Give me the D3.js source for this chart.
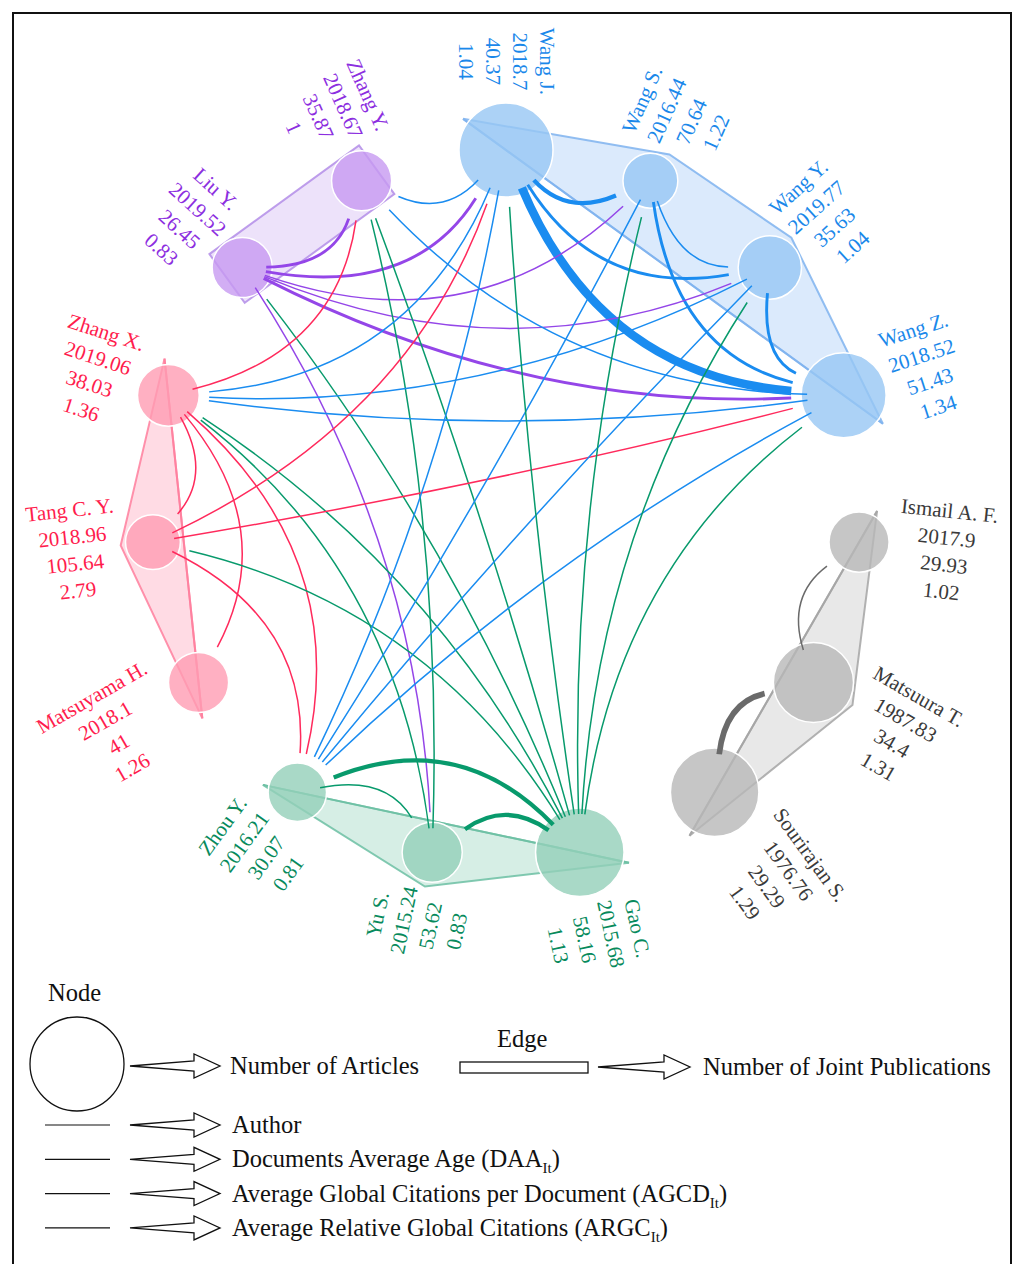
<!DOCTYPE html>
<html>
<head>
<meta charset="utf-8">
<script src="https://cdn.jsdelivr.net/npm/d3@7"></script>
<style>
  body { margin: 0; background: #fff; }
  svg { display: block; }
  text { font-family: "Liberation Serif", "Times New Roman", serif; }
</style>
</head>
<body>
<svg id="chart" width="1013" height="1264"></svg>
<script>
// ---- Authors, clockwise from the top of the ring ----
const authors  = ["Wang J.", "Wang S.", "Wang Y.", "Wang Z.", "Ismail A. F.", "Matsuura T.",
                  "Sourirajan S.", "Gao C.", "Yu S.", "Zhou Y.", "Matsuyama H.", "Tang C. Y.",
                  "Zhang X.", "Liu Y.", "Zhang Y."];
const clusters = ["wang", "wang", "wang", "wang", "gray", "gray",
                  "gray", "gao", "gao", "gao", "red", "red",
                  "red", "purple", "purple"];
const articles = [22, 7.5, 10, 18, 9, 16, 19.5, 19.5, 9, 8.5, 9, 7.5, 9.5, 9, 9];
const daa  = [2018.7, 2016.44, 2019.77, 2018.52, 2017.9, 1987.83, 1976.76, 2015.68, 2015.24, 2016.21, 2018.1, 2018.96, 2019.06, 2019.52, 2018.67];
const agcd = [40.37, 70.64, 35.63, 51.43, 29.93, 34.4, 29.29, 58.16, 53.62, 30.07, 41, 105.64, 38.03, 26.45, 35.87];
const argc = [1.04, 1.22, 1.04, 1.34, 1.02, 1.31, 1.29, 1.13, 0.83, 0.81, 1.26, 2.79, 1.36, 0.83, 1];

// ---- Co-authorship links (colour follows the first author of the pair) ----
const edgeFrom = ["Wang J.", "Wang J.", "Wang J.", "Wang S.", "Wang S.", "Wang Y.",
                  "Liu Y.", "Liu Y.", "Liu Y.", "Liu Y.", "Liu Y.", "Liu Y.",
                  "Gao C.", "Wang J.", "Wang Z.", "Zhang X.", "Yu S.", "Gao C.",
                  "Wang J.", "Wang Y.", "Wang Z.", "Zhang X.", "Zhang X.", "Zhang X.",
                  "Gao C.", "Yu S.", "Tang C. Y.", "Tang C. Y.", "Tang C. Y.", "Gao C.",
                  "Wang J.", "Wang S.", "Wang Y.", "Wang Z.", "Zhou Y.", "Gao C.",
                  "Gao C.", "Gao C.", "Gao C.", "Gao C.", "Gao C.", "Matsuura T.", "Sourirajan S."];
const edgeTo   = ["Wang Z.", "Wang S.", "Wang Y.", "Wang Z.", "Wang Y.", "Wang Z.",
                  "Zhang Y.", "Wang J.", "Wang S.", "Wang Y.", "Wang Z.", "Yu S.",
                  "Liu Y.", "Zhang Y.", "Zhang Y.", "Zhang Y.", "Zhang Y.", "Zhang Y.",
                  "Zhang X.", "Zhang X.", "Zhang X.", "Tang C. Y.", "Matsuyama H.", "Zhou Y.",
                  "Zhang X.", "Zhang X.", "Wang J.", "Wang Z.", "Zhou Y.", "Tang C. Y.",
                  "Zhou Y.", "Zhou Y.", "Zhou Y.", "Zhou Y.", "Yu S.", "Zhou Y.",
                  "Yu S.", "Wang J.", "Wang S.", "Wang Y.", "Wang Z.", "Ismail A. F.", "Matsuura T."];
const jointPubs = [6, 3, 2, 2, 1, 2,
                   2, 2, 1, 1, 2, 1,
                   1, 1, 1, 1, 1, 1,
                   1, 1, 1, 1, 1, 1,
                   1, 1, 1, 1, 1, 1,
                   1, 1, 1, 1, 1, 3,
                   3, 1, 1, 1, 1, 1, 4];

// ---- Legend entries ----
const legendRows = [
  { text: "Author" },
  { text: "Documents Average Age (DAA", sub: "It", tail: ")" },
  { text: "Average Global Citations per Document (AGCD", sub: "It", tail: ")" },
  { text: "Average Relative Global Citations (ARGC", sub: "It", tail: ")" }
];

// ---- Styling ----
const palette = {
  wang:   { node: "#97c7f4", hull: "#a5caf7", hullStroke: "#7fb3ee", edge: "#1a8cf0", text: "#1a88ea" },
  purple: { node: "#c79af1", hull: "#d2b6f2", hullStroke: "#b38de8", edge: "#9446e8", text: "#8c2ee0" },
  red:    { node: "#ff9cb3", hull: "#ffa5bb", hullStroke: "#ff7f9d", edge: "#ff2a5c", text: "#ff1c4d" },
  gao:    { node: "#93cfb9", hull: "#98d4be", hullStroke: "#6cbfa3", edge: "#089a6c", text: "#078a5c" },
  gray:   { node: "#b8b8b8", hull: "#c5c5c5", hullStroke: "#a5a5a5", edge: "#6a6a6a", text: "#3a3a3a" }
};

const svg = d3.select("#chart");
const cx = 506, cy = 505, ringR = 355;

// frame
svg.append("rect").attr("x", 13).attr("y", 13).attr("width", 998).attr("height", 1270)
  .attr("fill", "none").attr("stroke", "#111").attr("stroke-width", 2);

const angleScale = d3.scaleLinear().domain([0, authors.length]).range([-90, 270]);
const rScale = d3.scaleSqrt().domain([0, 22]).range([0, 47]);
const widthScale = d3.scaleLinear().domain([1, 6]).range([1.5, 8.5]);

const nodes = authors.map((name, i) => {
  const a = angleScale(i), t = a * Math.PI / 180;
  return { name, i, cluster: clusters[i], a,
           x: cx + ringR * Math.cos(t), y: cy + ringR * Math.sin(t),
           r: rScale(articles[i]) };
});
const byName = new Map(nodes.map(n => [n.name, n]));

// ---- Cluster hulls ----
function hullShape(members) {
  const a = members[0], b = members[members.length - 1];
  const dx = b.x - a.x, dy = b.y - a.y, L = Math.hypot(dx, dy);
  const ux = dx / L, uy = dy / L, vx = -uy, vy = ux;
  if (members.length === 2) {
    const w = Math.max(a.r, b.r);
    const s = [a.x - ux * a.r * 0.62, a.y - uy * a.r * 0.62];
    const e = [b.x + ux * b.r * 0.62, b.y + uy * b.r * 0.62];
    return { poly: [[s[0] + vx * w, s[1] + vy * w], [e[0] + vx * w, e[1] + vy * w],
                    [e[0] - vx * w, e[1] - vy * w], [s[0] - vx * w, s[1] - vy * w]],
             spine: null };
  }
  const start = [a.x - ux * (a.r + 6), a.y - uy * (a.r + 6)];
  const end = [b.x + ux * (b.r + 6), b.y + uy * (b.r + 6)];
  const mids = members.slice(1, -1).map(m => {
    const side = Math.sign((m.x - a.x) * vx + (m.y - a.y) * vy) || 1;
    return [m.x + side * vx * (m.r + 5), m.y + side * vy * (m.r + 5)];
  });
  return { poly: [start, ...mids, end], spine: [start, end] };
}

const clusterKeys = Array.from(new Set(clusters));
const hullLayer = svg.append("g");
clusterKeys.forEach(k => {
  const members = nodes.filter(n => n.cluster === k);
  const h = hullShape(members);
  hullLayer.append("path")
    .attr("d", "M" + h.poly.map(p => p.join(",")).join("L") + "Z")
    .attr("fill", palette[k].hull).attr("fill-opacity", 0.4)
    .attr("stroke", palette[k].hullStroke).attr("stroke-opacity", 0.85).attr("stroke-width", 2);
  if (h.spine) {
    hullLayer.append("line")
      .attr("x1", h.spine[0][0]).attr("y1", h.spine[0][1])
      .attr("x2", h.spine[1][0]).attr("y2", h.spine[1][1])
      .attr("stroke", palette[k].hullStroke).attr("stroke-opacity", 0.85).attr("stroke-width", 2);
  }
});

// ---- Nodes ----
svg.append("g").selectAll("circle").data(nodes).join("circle")
  .attr("cx", d => d.x).attr("cy", d => d.y).attr("r", d => d.r)
  .attr("fill", d => palette[d.cluster].node).attr("fill-opacity", 0.8)
  .attr("stroke", "#fff").attr("stroke-width", 1.5);

// ---- Links: quadratic curves pulled toward the ring centre ----
const pull = [0, 0.15, 0.3, 0.44, 0.46, 0.46, 0.42, 0.4, 0.4];
const links = edgeFrom.map((f, k) => ({ s: byName.get(f), t: byName.get(edgeTo[k]), w: jointPubs[k] }));
function linkPath(l) {
  const s = l.s, t = l.t;
  const diff = Math.abs(s.i - t.i), steps = Math.min(diff, authors.length - diff);
  const mx = (s.x + t.x) / 2, my = (s.y + t.y) / 2, k = pull[steps];
  const c = [mx + k * (cx - mx), my + k * (cy - my)];
  const d0 = Math.hypot(c[0] - s.x, c[1] - s.y), d1 = Math.hypot(c[0] - t.x, c[1] - t.y);
  const rs = s.r - 6, rt = t.r + 10;
  const p0 = [s.x + (c[0] - s.x) / d0 * rs, s.y + (c[1] - s.y) / d0 * rs];
  const p1 = [t.x + (c[0] - t.x) / d1 * rt, t.y + (c[1] - t.y) / d1 * rt];
  const p = d3.path();
  p.moveTo(p0[0], p0[1]);
  p.quadraticCurveTo(c[0], c[1], p1[0], p1[1]);
  return p.toString();
}
svg.append("g").attr("fill", "none").selectAll("path").data(links).join("path")
  .attr("d", linkPath)
  .attr("stroke", d => palette[d.s.cluster].edge)
  .attr("stroke-width", d => widthScale(d.w));

// ---- Radial labels: name, DAA, AGCD, ARGC ----
const lineH = 27;
const labelLayer = svg.append("g");
nodes.forEach(n => {
  const lines = [n.name, String(daa[n.i]), String(agcd[n.i]), String(argc[n.i])];
  const rot = (n.a > -90 && n.a < 90) ? n.a : n.a - 180;
  const g = labelLayer.append("g");
  const txt = g.selectAll("text").data(lines).join("text")
    .attr("text-anchor", "middle")
    .attr("y", (d, j) => (j - 1.5) * lineH + 7)
    .attr("font-size", 21)
    .attr("fill", palette[n.cluster].text)
    .text(d => d);
  const wMax = d3.max(txt.nodes(), e => e.getComputedTextLength());
  const D = ringR + n.r + 8 + wMax / 2, t = n.a * Math.PI / 180;
  g.attr("transform", `translate(${cx + D * Math.cos(t)},${cy + D * Math.sin(t)}) rotate(${rot})`);
});

// ---- Legend ----
const lg = svg.append("g").attr("font-size", 24.5).attr("fill", "#111");
function hollowArrow(x0, x1, y) {
  const hb = x1 - 26;
  const pts = [[x0, y], [hb, y - 5], [hb, y - 12], [x1, y], [hb, y + 12], [hb, y + 5]];
  lg.append("path").attr("d", "M" + pts.map(p => p.join(",")).join("L") + "Z")
    .attr("fill", "#fff").attr("stroke", "#111").attr("stroke-width", 1.3);
}
lg.append("text").attr("x", 48).attr("y", 1001).text("Node");
lg.append("circle").attr("cx", 77).attr("cy", 1064).attr("r", 47)
  .attr("fill", "none").attr("stroke", "#111").attr("stroke-width", 1.3);
hollowArrow(130, 220, 1066);
lg.append("text").attr("x", 230).attr("y", 1074).text("Number of Articles");
lg.append("text").attr("x", 497).attr("y", 1047).text("Edge");
lg.append("rect").attr("x", 460).attr("y", 1062).attr("width", 128).attr("height", 11)
  .attr("fill", "#fff").attr("stroke", "#111").attr("stroke-width", 1.3);
hollowArrow(598, 690, 1067);
lg.append("text").attr("x", 703).attr("y", 1075).text("Number of Joint Publications");

legendRows.forEach((row, k) => {
  const y = 1125 + k * 34.3;
  lg.append("line").attr("x1", 45).attr("x2", 110).attr("y1", y).attr("y2", y)
    .attr("stroke", "#111").attr("stroke-width", 1.2);
  hollowArrow(130, 220, y);
  const t = lg.append("text").attr("x", 232).attr("y", y + 8);
  t.append("tspan").text(row.text);
  if (row.sub) {
    t.append("tspan").attr("font-size", 15).attr("dy", 6).text(row.sub);
    t.append("tspan").attr("dy", -6).text(row.tail);
  }
});
</script>
</body>
</html>
